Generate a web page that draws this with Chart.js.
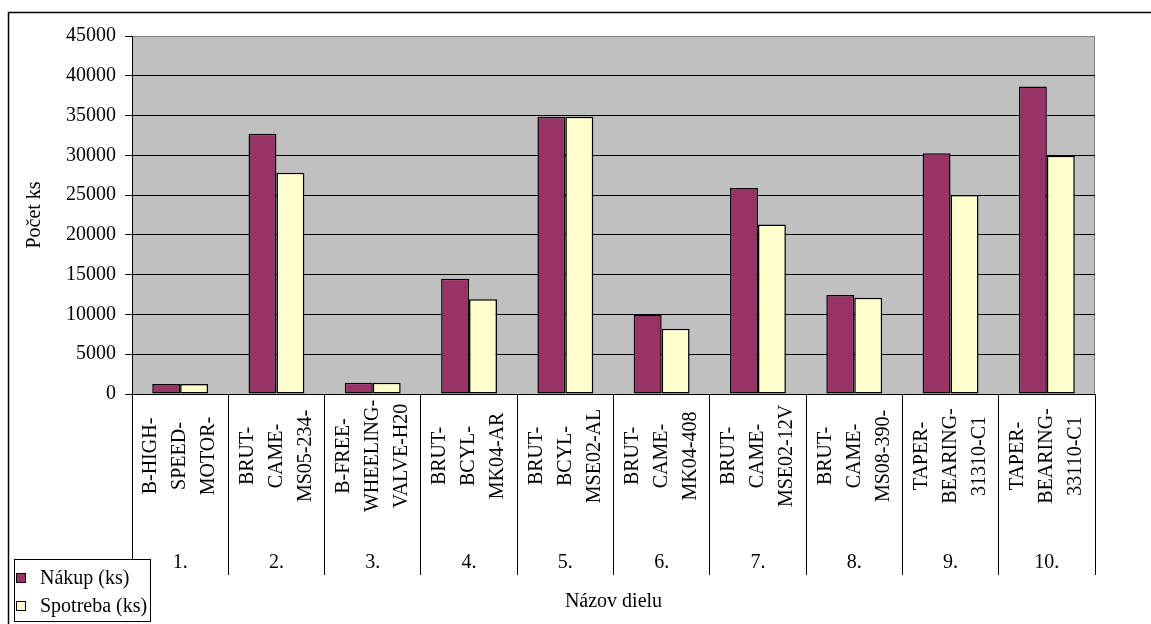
<!DOCTYPE html>
<html lang="sk">
<head>
<meta charset="utf-8">
<title>Nákup a spotreba dielov</title>
<script src="https://cdn.jsdelivr.net/npm/chart.js@4/dist/chart.umd.min.js"></script>
<style>
  html, body { margin: 0; padding: 0; background: #fff; }
  canvas { display: block; }
</style>
</head>
<body>
<canvas id="partsChart" width="1151" height="624"></canvas>
<script>
// ── Data ──────────────────────────────────────────────────────
const partNumbers = ['1.', '2.', '3.', '4.', '5.', '6.', '7.', '8.', '9.', '10.'];
const partNames = [
  ['B-HIGH-', 'SPEED-', 'MOTOR-'],
  ['BRUT-', 'CAME-', 'MS05-234-'],
  ['B-FREE-', 'WHEELING-', 'VALVE-H20'],
  ['BRUT-', 'BCYL-', 'MK04-AR'],
  ['BRUT-', 'BCYL-', 'MSE02-AL'],
  ['BRUT-', 'CAME-', 'MK04-408'],
  ['BRUT-', 'CAME-', 'MSE02-12V'],
  ['BRUT-', 'CAME-', 'MS08-390-'],
  ['TAPER-', 'BEARING-', '31310-C1'],
  ['TAPER-', 'BEARING-', '33110-C1']
];
const purchased = [1250, 32700, 1400, 14500, 34850, 10000, 25900, 12450, 30250, 38650];
const consumed  = [1250, 27800, 1400, 11900, 34850, 8200, 21300, 12100, 25000, 29950];
const yTicks = [0, 5000, 10000, 15000, 20000, 25000, 30000, 35000, 40000, 45000];

const SERIF = '"Liberation Serif", "Times New Roman", serif';
const C_PURCHASE = '#993366';
const C_CONSUME  = '#FFFFCC';

Chart.defaults.font.family = SERIF;
Chart.defaults.font.size = 20;
Chart.defaults.color = '#000';

// ── Plot background, outer frame, part labels, legend ─────────
const sheetDecor = {
  id: 'sheetDecor',
  beforeDraw(chart) {
    const { ctx, chartArea: a } = chart;
    ctx.save();
    ctx.fillStyle = '#C0C0C0';
    ctx.fillRect(a.left, a.top, a.right - a.left, a.bottom - a.top);
    ctx.strokeStyle = '#808080';
    ctx.lineWidth = 1;
    ctx.beginPath();
    ctx.moveTo(a.left, a.top + 0.5);
    ctx.lineTo(a.right - 0.5, a.top + 0.5);
    ctx.lineTo(a.right - 0.5, a.bottom);
    ctx.stroke();

    ctx.strokeStyle = '#000';
    ctx.lineWidth = 1.5;
    ctx.beginPath();
    ctx.moveTo(8.5, chart.height);
    ctx.lineTo(8.5, 12.5);
    ctx.lineTo(chart.width, 12.5);
    ctx.stroke();
    ctx.restore();
  },
  afterDraw(chart) {
    const { ctx } = chart;
    const x = chart.scales.x;
    ctx.save();
    ctx.font = '20px ' + SERIF;
    ctx.fillStyle = '#000';

    // rotated part names, one column per line, then the row number
    partNames.forEach((lines, i) => {
      const cx = x.getPixelForValue(i);
      lines.forEach((line, j) => {
        ctx.save();
        ctx.translate(cx + (j - 1) * 29, 456);
        ctx.rotate(-Math.PI / 2);
        ctx.textAlign = 'center';
        ctx.textBaseline = 'middle';
        ctx.fillText(line, 0, 0);
        ctx.restore();
      });
      ctx.textAlign = 'center';
      ctx.textBaseline = 'middle';
      ctx.fillText(partNumbers[i], cx, 563);
    });

    // legend box in the lower left corner
    ctx.fillStyle = '#fff';
    ctx.fillRect(14, 559, 136, 62);
    ctx.strokeStyle = '#000';
    ctx.lineWidth = 1;
    ctx.strokeRect(14.5, 559.5, 136, 62);
    chart.data.datasets.forEach((ds, i) => {
      const y = 578 + i * 28;
      ctx.fillStyle = ds.backgroundColor;
      ctx.fillRect(16.5, y - 4.5, 9, 9);
      ctx.strokeRect(16.5, y - 4.5, 9, 9);
      ctx.fillStyle = '#000';
      ctx.textAlign = 'left';
      ctx.textBaseline = 'middle';
      ctx.fillText(ds.label, 40, y + 1);
    });
    ctx.restore();
  }
};

// ── Chart ─────────────────────────────────────────────────────
new Chart(document.getElementById('partsChart'), {
  type: 'bar',
  data: {
    labels: partNumbers,
    datasets: [
      { label: 'Nákup (ks)', data: purchased, backgroundColor: C_PURCHASE },
      { label: 'Spotreba (ks)', data: consumed, backgroundColor: C_CONSUME }
    ]
  },
  options: {
    responsive: false,
    animation: false,
    events: [],
    layout: { padding: { top: 36, right: 56, left: 0, bottom: 0 } },
    datasets: {
      bar: {
        categoryPercentage: 0.58,
        barPercentage: 1.0,
        borderColor: '#000',
        borderWidth: 1.5,
        borderSkipped: false
      }
    },
    plugins: {
      legend: { display: false },
      tooltip: { enabled: false }
    },
    scales: {
      x: {
        afterFit(scale) { scale.height = 230; },
        ticks: { display: false },
        grid: { offset: true, drawOnChartArea: false, tickLength: 181, color: '#000', lineWidth: 1 },
        border: { color: '#000', width: 1 },
        title: { display: true, text: 'Názov dielu', font: { size: 20 }, padding: { top: 0, bottom: 10 } }
      },
      y: {
        min: yTicks[0],
        max: yTicks[yTicks.length - 1],
        afterFit(scale) { scale.width = 132; },
        afterBuildTicks(scale) { scale.ticks = yTicks.map(v => ({ value: v })); },
        ticks: { padding: 9, font: { size: 20 }, callback: v => String(v) },
        grid: {
          color: c => (c.tick && c.tick.value === yTicks[yTicks.length - 1] ? '#808080' : '#000'),
          tickColor: '#000',
          tickLength: 7,
          lineWidth: 1
        },
        border: { color: '#000', width: 1 },
        title: { display: true, text: 'Počet ks', font: { size: 20 }, padding: { top: 23, bottom: 0 } }
      }
    }
  },
  plugins: [sheetDecor]
});
</script>
</body>
</html>
